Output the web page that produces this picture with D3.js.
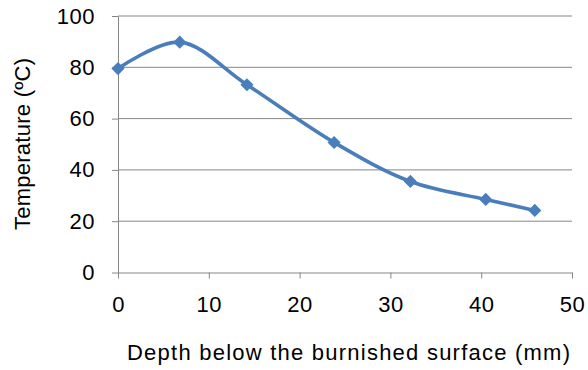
<!DOCTYPE html>
<html>
<head>
<meta charset="utf-8">
<script src="https://cdn.jsdelivr.net/npm/d3@7"></script>
<style>
  body { margin: 0; background: #fff; }
</style>
</head>
<body>
<script>
// depth (mm) and temperature (ºC)
let depth = [0, 6.8, 14.2, 23.8, 32.2, 40.5, 45.9];
let temperature = [79.5, 89.8, 73.2, 50.7, 35.5, 28.5, 24.2];
let xTicks = [0, 10, 20, 30, 40, 50];
let yTicks = [0, 20, 40, 60, 80, 100];

let data = d3.zip(depth, temperature).map(d => ({depth: d[0], temp: d[1]}));

let width = 588;
let height = 370;

let margins = {
  top: 16,
  bottom: 97.5,
  left: 118,
  right: 16,
}

let font = 'Liberation Sans, Arial, sans-serif';
let gridColor = '#868686';
let lineColor = '#4a7ebb';

let xScale = d3.scaleLinear([0, 50], [margins.left, width - margins.right]);
let yScale = d3.scaleLinear([0, 100], [height - margins.bottom, margins.top]);

let svg = d3.create('svg')
  .attr('width', width)
  .attr('height', height);

// horizontal gridlines
svg.append('g')
  .selectAll('line')
  .data(yTicks.slice(1))
  .join('line')
  .attr('x1', xScale(0))
  .attr('x2', xScale(50))
  .attr('y1', d => yScale(d))
  .attr('y2', d => yScale(d))
  .attr('stroke', gridColor)
  .attr('stroke-width', 1);

let xAxis = d3.axisBottom(xScale)
  .tickValues(xTicks)
  .tickSizeInner(6)
  .tickSizeOuter(0)
  .tickPadding(17.5);

let yAxis = d3.axisLeft(yScale)
  .tickValues(yTicks)
  .tickSizeInner(6)
  .tickSizeOuter(0)
  .tickPadding(17);

let gx = svg.append('g')
  .attr('transform', `translate(0,${yScale(0)})`)
  .call(xAxis);

let gy = svg.append('g')
  .attr('transform', `translate(${xScale(0)},0)`)
  .call(yAxis);

for (let g of [gx, gy]) {
  g.selectAll('path, line').attr('stroke', gridColor);
  g.selectAll('text')
    .attr('font-family', font)
    .attr('font-size', 22)
    .attr('letter-spacing', 0.5)
    .attr('fill', '#000');
}

svg.append('path')
  .datum(data)
  .attr('d', d3.line()
    .x(d => xScale(d.depth))
    .y(d => yScale(d.temp))
    .curve(d3.curveCatmullRom.alpha(0.5))
  )
  .attr('stroke', lineColor)
  .attr('fill', 'none')
  .attr('stroke-width', 3.6);

svg.append('g')
  .selectAll('path')
  .data(data)
  .join('path')
  .attr('d', d3.symbol(d3.symbolDiamond2, 110))
  .attr('transform', d => `translate(${xScale(d.depth)},${yScale(d.temp)})`)
  .attr('fill', lineColor);

svg.append('text')
  .text('Depth below the burnished surface (mm)')
  .attr('x', 348.5)
  .attr('y', 359.5)
  .attr('font-family', font)
  .attr('font-size', 22)
  .attr('textLength', 443)
  .attr('lengthAdjust', 'spacing')
  .attr('text-anchor', 'middle');

svg.append('text')
  .text('Temperature (ºC)')
  .attr('transform', 'rotate(-90)')
  .attr('x', -144)
  .attr('y', 30)
  .attr('font-family', font)
  .attr('font-size', 22)
  .attr('textLength', 172)
  .attr('lengthAdjust', 'spacing')
  .attr('text-anchor', 'middle');

document.body.prepend(svg.node());
</script>
</body>
</html>
